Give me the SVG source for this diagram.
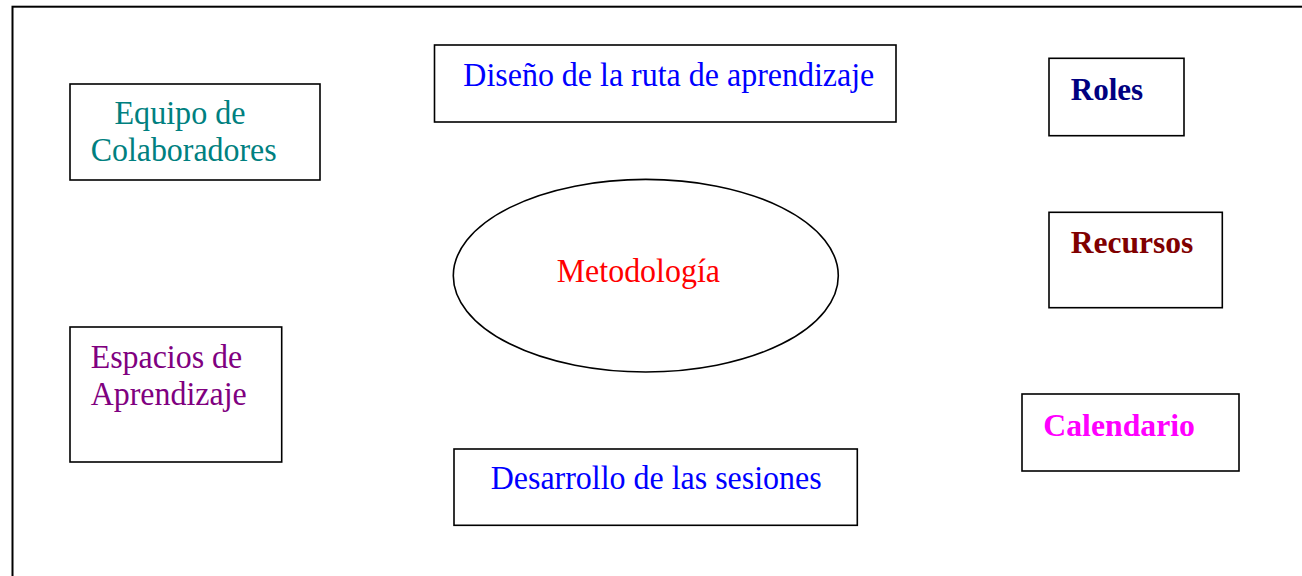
<svg xmlns="http://www.w3.org/2000/svg" width="1302" height="576" viewBox="0 0 1302 576">
<style>
.frame{fill:none;stroke:#000;stroke-width:2}
.box{fill:#fff;stroke:#000;stroke-width:1.6}
.t{font-family:"Liberation Serif","Times New Roman",serif;font-size:33px}
.b{font-weight:bold;font-size:32px}
</style>
<rect width="1302" height="576" fill="#fff"/>
<rect class="frame" x="12.5" y="6.7" width="1310" height="600"/>
<g id="connectors"></g>
<g id="equipo">
<rect class="box" x="70" y="84" width="250" height="96"/>
<text class="t" fill="#008080" x="114.5" y="124" textLength="131" lengthAdjust="spacingAndGlyphs">Equipo de</text>
<text class="t" fill="#008080" x="90.7" y="161" textLength="186" lengthAdjust="spacingAndGlyphs">Colaboradores</text>
</g>
<g id="diseno">
<rect class="box" x="434.5" y="45" width="461.5" height="77"/>
<text class="t" fill="#0000FF" x="463.3" y="86" textLength="411" lengthAdjust="spacingAndGlyphs">Diseño de la ruta de aprendizaje</text>
</g>
<g id="roles">
<rect class="box" x="1049" y="58.3" width="135" height="77.4"/>
<text class="t b" fill="#000080" x="1070.7" y="100" textLength="72.5" lengthAdjust="spacingAndGlyphs">Roles</text>
</g>
<g id="metodologia">
<ellipse class="box" cx="645.8" cy="275.7" rx="192.5" ry="96.3"/>
<text class="t" fill="#FF0000" x="556.7" y="281.7" textLength="163.3" lengthAdjust="spacingAndGlyphs">Metodología</text>
</g>
<g id="recursos">
<rect class="box" x="1049" y="212.3" width="173.3" height="95.4"/>
<text class="t b" fill="#800000" x="1070.7" y="252.7" textLength="122.6" lengthAdjust="spacingAndGlyphs">Recursos</text>
</g>
<g id="espacios">
<rect class="box" x="70" y="327" width="211.7" height="135"/>
<text class="t" fill="#800080" x="90.7" y="368.3" textLength="151.5" lengthAdjust="spacingAndGlyphs">Espacios de</text>
<text class="t" fill="#800080" x="90.7" y="405" textLength="156" lengthAdjust="spacingAndGlyphs">Aprendizaje</text>
</g>
<g id="calendario">
<rect class="box" x="1022" y="394" width="217" height="77"/>
<text class="t b" fill="#FF00FF" x="1043.3" y="436" textLength="151.7" lengthAdjust="spacingAndGlyphs">Calendario</text>
</g>
<g id="desarrollo">
<rect class="box" x="454" y="449" width="403.3" height="76.3"/>
<text class="t" fill="#0000FF" x="490.7" y="489.3" textLength="331" lengthAdjust="spacingAndGlyphs">Desarrollo de las sesiones</text>
</g>
</svg>
